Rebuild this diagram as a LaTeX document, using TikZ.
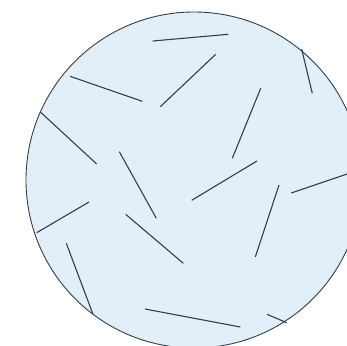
\documentclass[tikz,border=0pt]{standalone}
\usetikzlibrary{positioning}
\definecolor{dishblue}{RGB}{226,238,248}
\definecolor{rodgray}{RGB}{52,62,72}
\tikzstyle{dish} = [fill=dishblue, draw=rodgray, line width=0.9pt]
\tikzstyle{rod} = [draw=rodgray, line width=1.1pt]

\begin{document}
\begin{tikzpicture}[x=1pt, y=-1pt]

\useasboundingbox (0,0) rectangle (347,345);
\clip (0,0) rectangle (347,345);

\draw[dish] (194,180) circle (168);

\draw[rod] (152.7,41) -- (228.3,34.3);
\draw[rod] (215.7,54.3) -- (160.3,106.7);
\draw[rod] (70,76.3) -- (142.3,101.3);
\draw[rod] (301.7,49.3) -- (312.3,93.3);
\draw[rod] (260.7,88.3) -- (232.3,158.3);
\draw[rod] (40.7,112.3) -- (96.7,164);
\draw[rod] (119.3,151.7) -- (156.3,218.3);
\draw[rod] (257,161) -- (191.7,200.3);
\draw[rod] (350,173) -- (291.3,193);
\draw[rod] (279,185) -- (255.3,257);
\draw[rod] (89,202) -- (36.7,232.7);
\draw[rod] (125.7,214.3) -- (183.3,263.3);
\draw[rod] (66.3,243.3) -- (93,314.3);
\draw[rod] (145,309) -- (240.3,327);
\draw[rod] (267,314.3) -- (286.7,322.7);

\end{tikzpicture}
\end{document}
